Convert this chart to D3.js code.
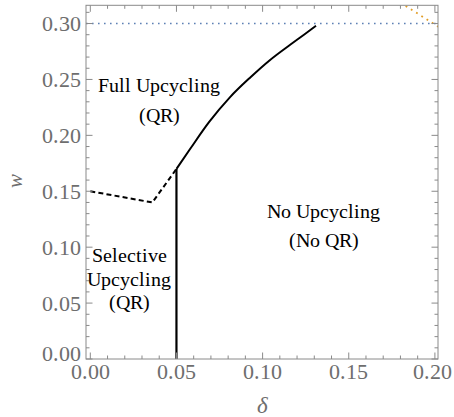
<!DOCTYPE html>
<html>
<head>
<meta charset="utf-8">
<script src="https://cdn.jsdelivr.net/npm/d3@7"></script>
<style>
  @font-face { font-family: "ChartSerif"; src: local("Liberation Serif"), local("LiberationSerif"), local("LiberationSerif-Regular"); font-style: normal; }
  @font-face { font-family: "ChartSerif"; src: local("Liberation Serif Italic"), local("LiberationSerif-Italic"); font-style: italic; }
  html, body { margin: 0; padding: 0; background: #fff; font-family: "ChartSerif", "Liberation Serif", "Times New Roman", serif; }
  #chart, #chart text, #chart tspan { font-family: "ChartSerif", "Liberation Serif", "Times New Roman", serif !important; }
</style>
</head>
<body>
<svg id="chart" width="454" height="417"></svg>
<script>
// Regime boundaries in the (δ, w) plane
const boundaryDelta = [0.050, 0.058, 0.069, 0.081, 0.093, 0.104, 0.116, 0.124, 0.131];
const boundaryW     = [0.170, 0.188, 0.212, 0.234, 0.252, 0.267, 0.281, 0.290, 0.298];

const dashedDelta = [0.000, 0.036, 0.050];
const dashedW     = [0.150, 0.140, 0.170];

const verticalDelta = [0.050, 0.050];
const verticalW     = [0.000, 0.170];

const capDelta = [-0.0025, 0.2018];
const capW     = [0.300, 0.300];

const orangeDelta = [0.180, 0.2060];
const orangeW     = [0.3187, 0.2932];

const xTicks = [0.00, 0.05, 0.10, 0.15, 0.20];
const yTicks = [0.00, 0.05, 0.10, 0.15, 0.20, 0.25, 0.30];
const xMinor = d3.range(0, 0.2001, 0.01);
const yMinor = d3.range(0, 0.3101, 0.01);

const regionLabels = [
  { lines: ["Full Upcycling", "(QR)"], d: 0.040, w: 0.2385 },
  { lines: ["Selective", "Upcycling", "(QR)"], d: 0.0225, w: 0.0865 },
  { lines: ["No Upcycling", "(No QR)"], d: 0.1355, w: 0.126 }
];

const svg = d3.select("#chart");
const x = d3.scaleLinear().domain([-0.0025, 0.2018]).range([86, 438]);
const y = d3.scaleLinear().domain([0, 0.3163]).range([359, 5.3]);

const zip = (a, b) => a.map((v, i) => [v, b[i]]);
const line = d3.line().x(d => x(d[0])).y(d => y(d[1]));

svg.append("defs").append("clipPath").attr("id", "plotClip")
  .append("rect").attr("x", 86).attr("y", 5.3).attr("width", 352).attr("height", 353.7);

const plot = svg.append("g").attr("clip-path", "url(#plotClip)");

// Dotted reference lines
plot.append("path").datum(zip(capDelta, capW)).attr("d", line)
  .attr("fill", "none").attr("stroke", "#5E81B5").attr("stroke-width", 1.6)
  .attr("stroke-dasharray", "1.6,4.4");
plot.append("path").datum(zip(orangeDelta, orangeW)).attr("d", line)
  .attr("fill", "none").attr("stroke", "#E19C24").attr("stroke-width", 1.8)
  .attr("stroke-dasharray", "1.8,4.4");

// Boundaries
plot.append("path").datum(zip(dashedDelta, dashedW)).attr("d", line)
  .attr("fill", "none").attr("stroke", "#000").attr("stroke-width", 2)
  .attr("stroke-dasharray", "5,3.2");
plot.append("path").datum(zip(verticalDelta, verticalW)).attr("d", line)
  .attr("fill", "none").attr("stroke", "#000").attr("stroke-width", 2.2);
plot.append("path").datum(zip(boundaryDelta, boundaryW))
  .attr("d", line.curve(d3.curveMonotoneX))
  .attr("fill", "none").attr("stroke", "#000").attr("stroke-width", 2);

// Frame
const frameColor = "#8a8a8a";
const [x0, x1] = x.range(), [y0, y1] = y.range();
svg.append("rect").attr("x", x0).attr("y", y1).attr("width", x1 - x0).attr("height", y0 - y1)
  .attr("fill", "none").attr("stroke", frameColor).attr("stroke-width", 1);

// Inward ticks on all four sides
const ticks = svg.append("g").attr("stroke", frameColor).attr("stroke-width", 1);
const isMajor = (v, list) => list.some(t => Math.abs(t - v) < 1e-9);
xMinor.forEach(v => {
  const len = isMajor(v, xTicks) ? 6.5 : 3.5;
  ticks.append("line").attr("x1", x(v)).attr("x2", x(v)).attr("y1", y0).attr("y2", y0 - len);
  ticks.append("line").attr("x1", x(v)).attr("x2", x(v)).attr("y1", y1).attr("y2", y1 + len);
});
yMinor.forEach(v => {
  const len = isMajor(v, yTicks) ? 6.5 : 3.5;
  ticks.append("line").attr("y1", y(v)).attr("y2", y(v)).attr("x1", x0).attr("x2", x0 + len);
  ticks.append("line").attr("y1", y(v)).attr("y2", y(v)).attr("x1", x1).attr("x2", x1 - len);
});

// Tick labels (the last δ label is kept inside the canvas)
const labelColor = "#6e6e6e";
const lastX = xTicks[xTicks.length - 1];
svg.selectAll("text.xlab").data(xTicks).join("text").attr("class", "xlab")
  .attr("x", d => d === lastX ? 452 : x(d)).attr("y", 379)
  .attr("text-anchor", d => d === lastX ? "end" : "middle")
  .attr("font-size", 22).attr("fill", labelColor)
  .text(d => d3.format(".2f")(d));
svg.selectAll("text.ylab").data(yTicks).join("text").attr("class", "ylab")
  .attr("x", 80.5).attr("y", d => y(d) - (d === 0 ? 5 : 0))
  .attr("dy", "0.34em")
  .attr("text-anchor", "end")
  .attr("font-size", 22).attr("fill", labelColor)
  .text(d => d3.format(".2f")(d));

// Axis titles
svg.append("text").attr("x", 262).attr("y", 413)
  .attr("text-anchor", "middle")
  .attr("font-style", "italic").attr("font-size", 23)
  .attr("fill", labelColor)
  .text("δ");
svg.append("text").attr("transform", "translate(22,181) rotate(-90)")
  .attr("text-anchor", "middle")
  .attr("font-style", "italic").attr("font-size", 21)
  .attr("fill", labelColor)
  .text("w");

// Region names
const lineGap = [30, 23.3, 29];
regionLabels.forEach((r, i) => {
  const t = svg.append("text")
    .attr("text-anchor", "middle")
    .attr("font-size", 19.5).attr("fill", "#000");
  r.lines.forEach((s, k) => {
    t.append("tspan").attr("x", x(r.d))
      .attr("y", y(r.w) + k * lineGap[i]).text(s);
  });
});
</script>
</body>
</html>
